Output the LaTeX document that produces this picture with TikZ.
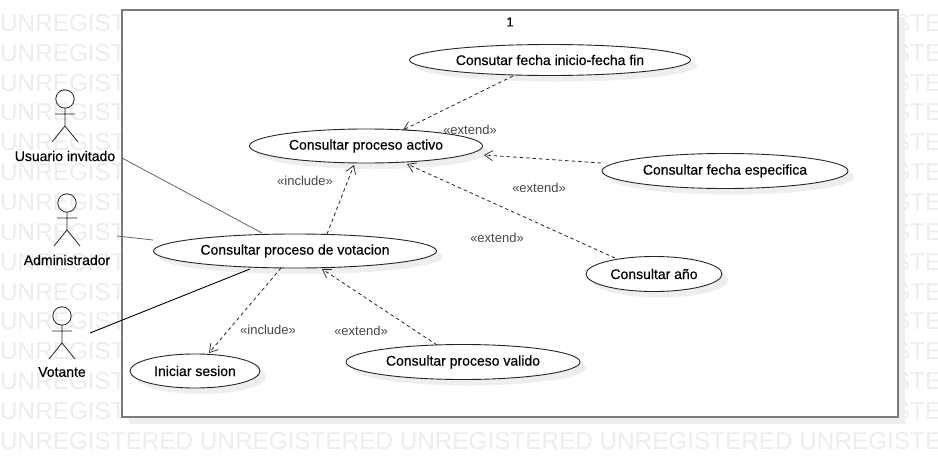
\documentclass[tikz,border=0pt]{standalone}
\usepackage{fontspec}
\setmainfont{Liberation Sans}
\newfontfamily\lblfont[FakeBold=0.4]{Liberation Sans}
\usetikzlibrary{shapes.geometric,arrows.meta}
\definecolor{wm}{HTML}{EDEDED}
\definecolor{shad}{HTML}{EEEEEE}
\tikzset{
  x=1pt,y=-1pt,
  watermark/.style={anchor=west,inner sep=0,text=wm,font=\fontsize{24.3}{24}\selectfont},
  usecase/.style={ellipse,draw=black!85,line width=.9pt,fill=white,inner sep=0,outer sep=0,font=\lblfont\fontsize{14}{14}\selectfont},
  actorlabel/.style={inner sep=0,font=\lblfont\fontsize{14}{14}\selectfont},
  stereo/.style={inner sep=0,text=black!72,font=\fontsize{13}{14}\selectfont},
  dep/.style={draw=black!85,line width=.8pt,dash pattern=on 3.5pt off 3pt,-{Straight Barb[length=8pt,width=10pt,line width=.7pt]}},
  actorline/.style={draw=black!85,line width=.8pt},
}
\newcommand{\actorfig}[2]{%
  \draw[actorline] (#1,#2) circle (9.2);
  \draw[actorline] (#1,#2+9.2) -- (#1,#2+27)
    (#1-10,#2+15) -- (#1+10,#2+15)
    (#1-13,#2+43) -- (#1,#2+27) -- (#1+13,#2+43);
}
\newcommand{\shadowell}[4]{\fill[shad] (#1+6,#2+6) ellipse [x radius=#3,y radius=#4];}
\begin{document}
\begin{tikzpicture}
\useasboundingbox (0,0) rectangle (938,458);
\clip (0,0) rectangle (938,458);
\fill[white] (0,0) rectangle (938,458);
% watermark
\foreach \i in {0,...,14}{
  \node[watermark] (wm\i) at (0,{23+29.86*\i}) {UNREGISTERED UNREGISTERED UNREGISTERED UNREGISTERED UNREGISTE};
}
% frame
\fill[shad] (129,17) rectangle (905,424);
\draw[fill=white,draw=black!52,line width=1.6pt] (122,10) rectangle (898,417);
\node[inner sep=0,font=\lblfont\fontsize{13}{14}\selectfont] (num) at (510,22) {1};
% shadows
\shadowell{550}{60}{141}{15.5}
\shadowell{366}{146}{116.5}{17}
\shadowell{725}{171}{123}{17.5}
\shadowell{654}{274}{68}{17.5}
\shadowell{295}{251}{141.5}{17}
\shadowell{463}{362}{117}{17.5}
\shadowell{195}{371}{65}{17}
% use cases
\node[usecase,minimum width=281pt,minimum height=31pt] (fechas) at (550,60) {Consutar fecha inicio-fecha fin};
\node[usecase,minimum width=233pt,minimum height=34pt] (activo) at (366,146) {Consultar proceso activo};
\node[usecase,minimum width=246pt,minimum height=35pt] (especifica) at (725,171) {Consultar fecha especifica};
\node[usecase,minimum width=136pt,minimum height=35pt] (anio) at (654,274) {Consultar año};
\node[usecase,minimum width=283pt,minimum height=34pt] (votacion) at (295,251) {Consultar proceso de votacion};
\node[usecase,minimum width=234pt,minimum height=35pt] (valido) at (463,362) {Consultar proceso valido};
\node[usecase,minimum width=130pt,minimum height=34pt] (sesion) at (195,371) {Iniciar sesion};
% actors
\actorfig{65}{99}
\actorfig{67}{203}
\actorfig{62}{316}
\node[actorlabel] (usuario) at (65,156) {Usuario invitado};
\node[actorlabel] (admin) at (67,260) {Administrador};
\node[actorlabel] (votante) at (62,372) {Votante};
% associations
\draw[draw=black!60,line width=.8pt] ([shift={(57,2)}]usuario.center) -- ([shift={(-33,-18)}]votacion.center);
\draw[draw=black!60,line width=.8pt] ([shift={(50,-24)}]admin.center) -- ([shift={(-142,-11)}]votacion.center);
\draw[draw=black,line width=.85pt] ([shift={(28,-39)}]votante.center) -- ([shift={(-45,18)}]votacion.center);
% dependencies
\draw[dep] ([shift={(32,-17)}]votacion.center) -- ([shift={(-12,19)}]activo.center);
\draw[dep] ([shift={(-14,17)}]votacion.center) -- ([shift={(14,-18)}]sesion.center);
\draw[dep] ([shift={(-37,16)}]fechas.center) -- ([shift={(37,-16)}]activo.center);
\draw[dep] ([shift={(-124,-8)}]especifica.center) -- ([shift={(118,9)}]activo.center);
\draw[dep] ([shift={(-39,-16)}]anio.center) -- ([shift={(41,18)}]activo.center);
\draw[dep] ([shift={(-26,-17)}]valido.center) -- ([shift={(27,18)}]votacion.center);
% labels
\node[stereo] (l1) at (470,130) {«extend»};
\node[stereo] (l2) at (305,181) {«include»};
\node[stereo] (l3) at (539,188) {«extend»};
\node[stereo] (l4) at (497,238) {«extend»};
\node[stereo] (l5) at (268,330) {«include»};
\node[stereo] (l6) at (361,331) {«extend»};
\end{tikzpicture}
\end{document}
